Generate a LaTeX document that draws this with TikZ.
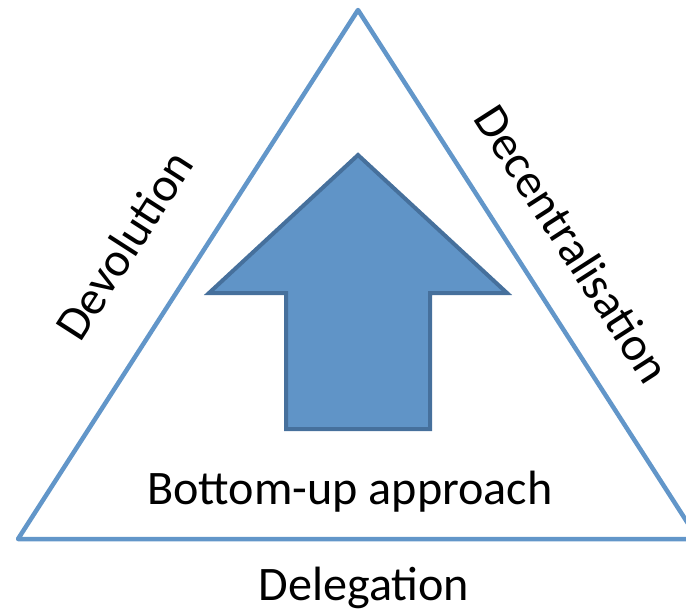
\documentclass[tikz,border=0pt]{standalone}
\usepackage{fontspec}
\setmainfont{Carlito}
\usetikzlibrary{calc}
\definecolor{sideblue}{RGB}{98,150,201}
\definecolor{arrowfill}{RGB}{96,148,199}
\definecolor{arrowedge}{RGB}{70,112,156}
\tikzset{
	label text/.style={font=\fontsize{27.4pt}{32pt}\selectfont, inner sep=0pt},
	side line/.style={draw=sideblue, line width=0.09cm, line join=round},
	up arrow/.style={fill=arrowfill, draw=arrowedge, line width=0.08cm, line join=miter}
}

\begin{document}
\begin{tikzpicture}[x=0.02cm, y=-0.02cm]
			%%%%% START %%%%%
			
			\clip (0, 0) rectangle (686, 610);
			
			\coordinate (apex) at (358, 10);
			\coordinate (left) at (18, 539);
			\coordinate (right) at (698, 539);
			\draw[side line] (apex) -- (left) -- (right) -- cycle;
			
			\draw[up arrow] (358, 155) -- (507, 293) -- (430, 293) -- (430, 429)
				-- (286, 429) -- (286, 293) -- (209, 293) -- cycle;
			
			\node[label text, anchor=base] (bottomup) at (350, 504) {Bottom-up approach};
			\node[label text, anchor=base] (delegation) at (364, 600) {Delegation};
			\node[label text, rotate=57.3] (devolution) at (124, 245) {Devolution};
			\node[label text, rotate=-57.3] (decentral) at (573, 244) {Decentralisation};
			
			%%%%% END %%%%%
		\end{tikzpicture}
\end{document}
